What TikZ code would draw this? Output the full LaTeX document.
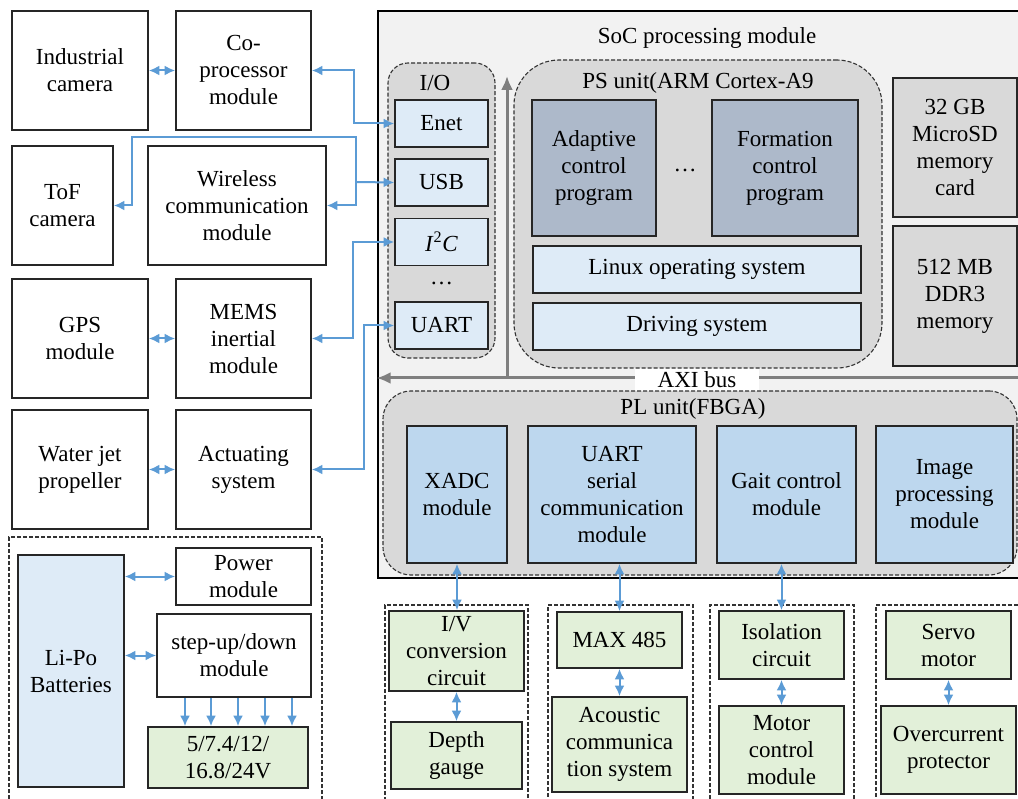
\documentclass[tikz,border=0pt]{standalone}
\usepackage{fontspec}
\setmainfont{Liberation Serif}
\usetikzlibrary{positioning, arrows.meta}
\definecolor{socfill}{HTML}{F2F2F2}
\definecolor{grpfill}{HTML}{D9D9D9}
\definecolor{progfill}{HTML}{ADB9CA}
\definecolor{lightblue}{HTML}{DEEBF7}
\definecolor{plblue}{HTML}{BDD7EE}
\definecolor{lightgreen}{HTML}{E2F0D9}
\definecolor{linkblue}{HTML}{5B9BD5}
\definecolor{busgray}{HTML}{7F7F7F}
\tikzset{font=\fontsize{23}{27}\selectfont}
\tikzstyle{block} = [draw=black!85, line width=1.7pt, rectangle, align=center, inner sep=0pt]
\tikzstyle{soc}   = [draw=black, line width=2.8pt, rectangle, fill=socfill]
\tikzstyle{grp}   = [draw=black!80, line width=1.1pt, dash pattern=on 4pt off 2pt, rectangle, fill=grpfill]
\tikzstyle{dbox}  = [draw=black!80, line width=1.1pt, dash pattern=on 4pt off 2pt, rectangle]
\tikzstyle{link}  = [draw=linkblue, line width=2pt]
\tikzstyle{bus}   = [draw=busgray, line width=3pt, -{Latex[length=14pt,width=12pt]}]

\begin{document}
\begin{tikzpicture}[x=1pt, y=-1pt, >={Latex[length=10.5pt,width=10pt]}]
	\useasboundingbox (0,0) rectangle (1018,799);
	\clip (0,0) rectangle (1018,799);

	% SoC processing module
	\node [soc, minimum width=660, minimum height=567] (soc) at (708,294.5) {};
	\node (soctitle) at (707,38) {SoC processing module};
	\node [grp, rounded corners=20pt, minimum width=107, minimum height=295] (iogrp) at (441.5,210.5) {};
	\node (iotitle) at (435,83) {I/O};
	\node [grp, rounded corners=45pt, minimum width=368, minimum height=308] (psgrp) at (698,214) {};
	\node (pstitle) at (698,83) {PS unit(ARM Cortex-A9};

	\node [block, fill=lightblue, minimum width=93, minimum height=47] (enet) at (441.5,123.5) {Enet};
	\node [block, fill=lightblue, minimum width=93, minimum height=47] (usb) at (441.5,182.5) {USB};
	\node [block, fill=lightblue, minimum width=93, minimum height=47] (i2c) at (441.5,242) {\textit{I}\textsuperscript{2}\textit{C}};
	\node (iodots) at (441.5,283) {\dots};
	\node [block, fill=lightblue, minimum width=93, minimum height=47] (uart) at (441.5,325.5) {UART};

	\node [block, fill=progfill, minimum width=124, minimum height=136] (adaptive) at (594,168) {Adaptive\\control\\program};
	\node [block, fill=progfill, minimum width=146, minimum height=136] (formation) at (785,168) {Formation\\control\\program};
	\node (psdots) at (685,170) {\dots};
	\node [block, fill=lightblue, minimum width=328, minimum height=47] (linux) at (697,269.5) {Linux operating system};
	\node [block, fill=lightblue, minimum width=328, minimum height=47] (driving) at (697,326.5) {Driving system};

	\node [block, fill=grpfill, minimum width=124, minimum height=139] (microsd) at (955,147.5) {32 GB\\MicroSD\\memory\\card};
	\node [block, fill=grpfill, minimum width=124, minimum height=140] (ddr) at (955,296) {512 MB\\DDR3\\memory};

	% AXI bus
	\coordinate (axiend) at (1040,378);
	\coordinate (axitap) at (507,378);
	\coordinate (axitop) at (507,76);
	\draw [bus] (axiend) -- (soc.west |- axiend);
	\draw [bus] (axitap) -- (axitop);
	\node [fill=white, minimum width=124, minimum height=22, inner sep=0pt] (axilabel) at (697,380) {AXI bus};

	\node [grp, rounded corners=28pt, minimum width=634, minimum height=184] (plgrp) at (700,483) {};
	\node (pltitle) at (693,409) {PL unit(FBGA)};
	\node [block, fill=plblue, minimum width=100, minimum height=137] (xadc) at (457,494.5) {XADC\\module};
	\node [block, fill=plblue, minimum width=168, minimum height=137] (uartm) at (612,494.5) {UART\\serial\\communication\\module};
	\node [block, fill=plblue, minimum width=139, minimum height=137] (gait) at (786.5,494.5) {Gait control\\module};
	\node [block, fill=plblue, minimum width=137, minimum height=137] (image) at (944.5,494.5) {Image\\processing\\module};

	% peripheral devices
	\node [block, minimum width=136, minimum height=119] (indcam) at (80,70.5) {Industrial\\camera};
	\node [block, minimum width=135, minimum height=119] (coproc) at (243.5,70.5) {Co-\\processor\\module};
	\node [block, minimum width=101, minimum height=119] (tofcam) at (62.5,205.5) {ToF\\camera};
	\node [block, minimum width=178, minimum height=119] (wireless) at (237,205.5) {Wireless\\communication\\module};
	\node [block, minimum width=136, minimum height=119] (gps) at (80,338.5) {GPS\\module};
	\node [block, minimum width=135, minimum height=119] (mems) at (243.5,338.5) {MEMS\\inertial\\module};
	\node [block, minimum width=136, minimum height=119] (waterjet) at (80,469.5) {Water jet\\propeller};
	\node [block, minimum width=135, minimum height=119] (actuating) at (243.5,469.5) {Actuating\\system};

	\draw [link, <->] (indcam) -- (coproc);
	\draw [link, <->] (gps) -- (mems);
	\draw [link, <->] (waterjet) -- (actuating);
	\draw [link, <->] (coproc.east) -- ++(42,0) |- (enet.west);
	\coordinate (usbtap) at (356,182);
	\coordinate (wbend) at (132,137);
	\draw [link, ->] (usbtap) -- (usb.west);
	\draw [link, ->] (usbtap) |- (wireless.east);
	\draw [link, ->] (usbtap) |- (wbend) |- (tofcam.east);
	\draw [link, <->] (mems.east) -- ++(41,0) |- (i2c.west);
	\draw [link, <->] (actuating.east) -- ++(52,0) |- (uart.west);

	% power supply
	\node [dbox, minimum width=313, minimum height=268] (powergrp) at (165.5,671) {};
	\node [block, fill=lightblue, minimum width=106, minimum height=232] (lipo) at (71,671) {Li-Po\\Batteries};
	\node [block, minimum width=135, minimum height=57] (power) at (243.5,576.5) {Power\\module};
	\node [block, minimum width=154, minimum height=83] (stepup) at (234,655.5) {step-up/down\\module};
	\node [block, fill=lightgreen, minimum width=160, minimum height=61] (volt) at (228,757.5) {5/7.4/12/\\16.8/24V};
	\draw [link, <->] (lipo.east |- power.west) -- (power.west);
	\draw [link, <->] (lipo.east |- stepup.west) -- (stepup.west);
	\foreach \dx in {-49,-23,4,31,58}
		\draw [link, ->] ([xshift=\dx pt]stepup.south) -- ([xshift=\dx pt]stepup.south |- volt.north);

	% circuits below the PL unit
	\node [dbox, minimum width=143, minimum height=200] (grpxadc) at (456.5,705) {};
	\node [dbox, minimum width=145, minimum height=200] (grpuart) at (620.5,705) {};
	\node [dbox, minimum width=144, minimum height=200] (grpgait) at (782,705) {};
	\node [dbox, minimum width=154, minimum height=200] (grpservo) at (953,705) {};

	\node [block, fill=lightgreen, minimum width=135, minimum height=80] (ivconv) at (456.5,651) {I/V\\conversion\\circuit};
	\node [block, fill=lightgreen, minimum width=131, minimum height=67] (depth) at (456.5,755.5) {Depth\\gauge};
	\node [block, fill=lightgreen, minimum width=125, minimum height=56] (max485) at (619.5,640) {MAX 485};
	\node [block, fill=lightgreen, minimum width=135, minimum height=95] (acoustic) at (619.5,744.5) {Acoustic\\communica\\tion system};
	\node [block, fill=lightgreen, minimum width=125, minimum height=68] (isolation) at (781.5,645) {Isolation\\circuit};
	\node [block, fill=lightgreen, minimum width=125, minimum height=88] (motor) at (781.5,750) {Motor\\control\\module};
	\node [block, fill=lightgreen, minimum width=125, minimum height=68] (servo) at (948.5,645) {Servo\\motor};
	\node [block, fill=lightgreen, minimum width=135, minimum height=88] (overcurrent) at (948.5,750) {Overcurrent\\protector};

	\draw [link, <->] (xadc.south) -- (xadc.south |- ivconv.north);
	\draw [link, <->] (ivconv) -- (depth);
	\draw [link, <->] (max485.north |- uartm.south) -- (max485.north);
	\draw [link, <->] (max485) -- (acoustic);
	\draw [link, <->] (isolation.north |- gait.south) -- (isolation.north);
	\draw [link, <->] (isolation) -- (motor);
	\draw [link, <->] (servo) -- (overcurrent);
\end{tikzpicture}
\end{document}
